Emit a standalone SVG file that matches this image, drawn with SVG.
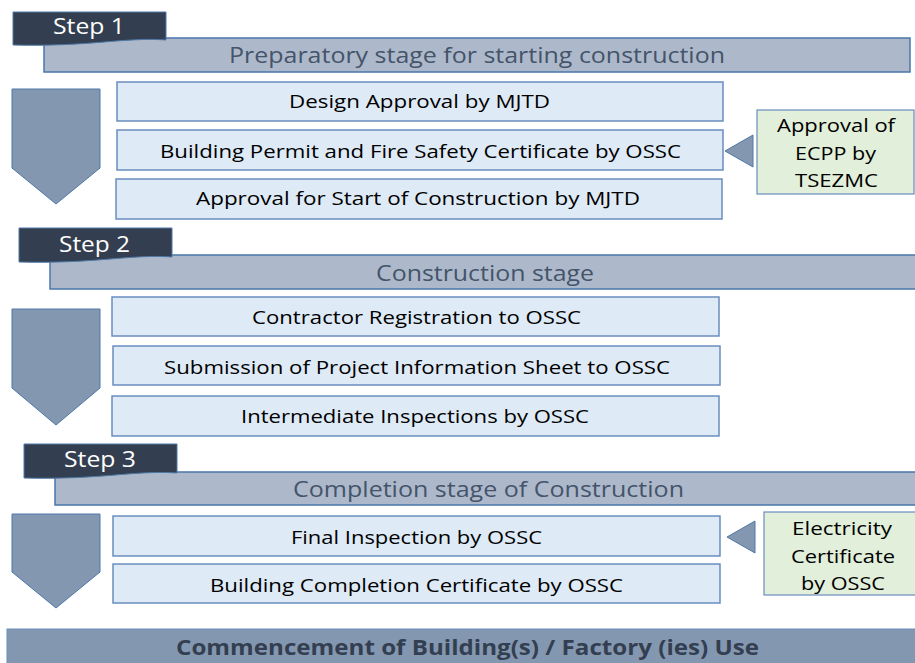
<svg xmlns="http://www.w3.org/2000/svg" width="915" height="663" viewBox="0 0 915 663">
<style>
text{font-family:"Open Sans","Liberation Sans",sans-serif;}
.tab{fill:#333F50;stroke:#4F79A8;stroke-width:1;}
.tabt{fill:#FFFFFF;font-size:21px;}
.bar{fill:#ADB9CA;stroke:#4A77AA;stroke-width:1.5;}
.bart{fill:#44546A;font-size:22px;}
.box{fill:#DEEAF6;stroke:#6A8DBE;stroke-width:1.5;}
.boxt{fill:#000000;font-size:19px;}
.grn{fill:#E2EFDA;stroke:#6A8DBE;stroke-width:1.2;}
.grnt{fill:#000000;font-size:19px;}
.arr{fill:#8497B0;stroke:#4F79A8;stroke-width:1;}
.fin{fill:#8497B0;stroke:#6A8DBE;stroke-width:1;}
.fint{fill:#333F50;font-size:21px;font-weight:bold;}
</style>

<g id="step1-title">
<rect class="bar" x="44" y="38" width="866" height="34"/>
<text class="bart" x="229" y="63" textLength="496" lengthAdjust="spacingAndGlyphs">Preparatory stage for starting construction</text>
</g>
<g id="step1-tab">
<path class="tab" d="M13,12 H166 V40 C125,37 90,47 13,45 Z"/>
<text class="tabt" x="53" y="34" textLength="72" lengthAdjust="spacingAndGlyphs">Step 1</text>
</g>
<g id="box-design">
<rect class="box" x="117" y="82" width="606" height="39"/>
<text class="boxt" x="289" y="108" textLength="261" lengthAdjust="spacingAndGlyphs">Design Approval by MJTD</text>
</g>
<g id="box-permit">
<rect class="box" x="117" y="130" width="606" height="40"/>
<text class="boxt" x="160" y="158" textLength="521" lengthAdjust="spacingAndGlyphs">Building Permit and Fire Safety Certificate by OSSC</text>
</g>
<g id="box-start">
<rect class="box" x="116" y="179" width="606" height="40"/>
<text class="boxt" x="196" y="205" textLength="444" lengthAdjust="spacingAndGlyphs">Approval for Start of Construction by MJTD</text>
</g>
<g id="ecpp">
<rect class="grn" x="757" y="110" width="157" height="84"/>
<text class="grnt" x="777" y="132" textLength="118" lengthAdjust="spacingAndGlyphs">Approval of</text>
<text class="grnt" x="795" y="160" textLength="81" lengthAdjust="spacingAndGlyphs">ECPP by</text>
<text class="grnt" x="795" y="187" textLength="83" lengthAdjust="spacingAndGlyphs">TSEZMC</text>
</g>

<g id="step2-title">
<rect class="bar" x="50" y="255" width="870" height="34"/>
<text class="bart" x="376" y="281" textLength="218" lengthAdjust="spacingAndGlyphs">Construction stage</text>
</g>
<g id="step2-tab">
<path class="tab" d="M19,228 H172 V257 C131,254 96,264 19,262 Z"/>
<text class="tabt" x="59" y="252" textLength="71" lengthAdjust="spacingAndGlyphs">Step 2</text>
</g>
<g id="box-contractor">
<rect class="box" x="112" y="297" width="607" height="39"/>
<text class="boxt" x="252" y="324" textLength="329" lengthAdjust="spacingAndGlyphs">Contractor Registration to OSSC</text>
</g>
<g id="box-submission">
<rect class="box" x="113" y="346" width="607" height="39"/>
<text class="boxt" x="164" y="374" textLength="506" lengthAdjust="spacingAndGlyphs">Submission of Project Information Sheet to OSSC</text>
</g>
<g id="box-intermediate">
<rect class="box" x="112" y="396" width="607" height="40"/>
<text class="boxt" x="241" y="423" textLength="348" lengthAdjust="spacingAndGlyphs">Intermediate Inspections by OSSC</text>
</g>

<g id="step3-title">
<rect class="bar" x="55" y="472" width="865" height="33"/>
<text class="bart" x="293" y="497" textLength="391" lengthAdjust="spacingAndGlyphs">Completion stage of Construction</text>
</g>
<g id="step3-tab">
<path class="tab" d="M24,444 H177 V473 C136,470 101,480 24,478 Z"/>
<text class="tabt" x="64" y="467" textLength="72" lengthAdjust="spacingAndGlyphs">Step 3</text>
</g>
<g id="box-final">
<rect class="box" x="113" y="516" width="607" height="40"/>
<text class="boxt" x="291" y="544" textLength="251" lengthAdjust="spacingAndGlyphs">Final Inspection by OSSC</text>
</g>
<g id="box-completion">
<rect class="box" x="113" y="564" width="607" height="39"/>
<text class="boxt" x="210" y="592" textLength="413" lengthAdjust="spacingAndGlyphs">Building Completion Certificate by OSSC</text>
</g>
<g id="electricity">
<rect class="grn" x="764" y="512" width="156" height="83"/>
<text class="grnt" x="792" y="535" textLength="100" lengthAdjust="spacingAndGlyphs">Electricity</text>
<text class="grnt" x="791" y="563" textLength="104" lengthAdjust="spacingAndGlyphs">Certificate</text>
<text class="grnt" x="801" y="590" textLength="84" lengthAdjust="spacingAndGlyphs">by OSSC</text>
</g>

<g id="commencement">
<rect class="fin" x="7" y="629" width="915" height="40"/>
<text class="fint" x="176" y="655" textLength="583" lengthAdjust="spacingAndGlyphs">Commencement of Building(s) / Factory (ies) Use</text>
</g>

<g id="connectors">
<path class="arr" d="M12,89 H100 V168 L56,204 L12,168 Z"/>
<path class="arr" d="M12,309 H100 V388 L56,425 L12,388 Z"/>
<path class="arr" d="M12,514 H100 V572 L56,608 L12,572 Z"/>
<path class="arr" d="M725,151 L753,135 V167 Z"/>
<path class="arr" d="M727,537 L755,521 V553 Z"/>
</g>
</svg>
